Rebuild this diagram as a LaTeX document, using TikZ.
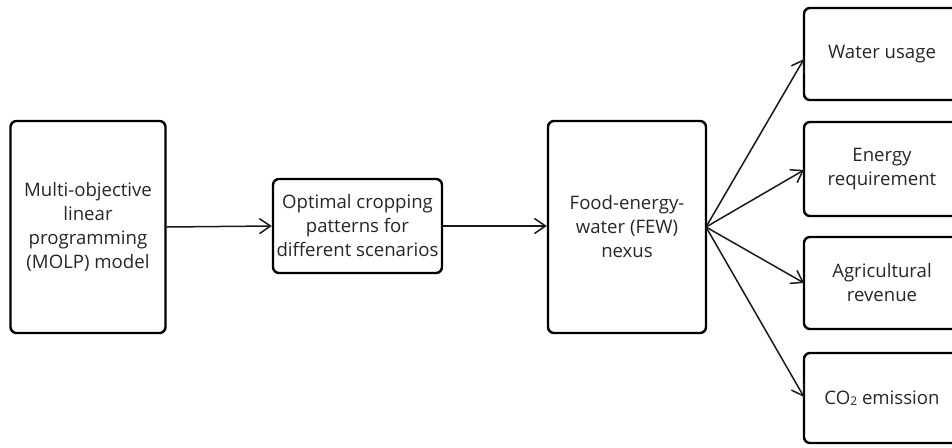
\documentclass[tikz,border=0pt]{standalone}
\usepackage{fontspec}
\setmainfont{Open Sans}
\usetikzlibrary{arrows.meta}
\begin{document}
\begin{tikzpicture}[x=1pt,y=-1pt,
  box/.style={draw=black, line width=2.4pt, rounded corners=6pt, align=center, font=\fontsize{18.6}{24}\selectfont, text=black!85, inner sep=0pt},
  arr/.style={draw=black!90, line width=1.5pt, -{Straight Barb[length=11pt,width=15pt,line width=1.5pt]}}]
\useasboundingbox (0,0) rectangle (952,447);
\clip (0,0) rectangle (952,447);
\node[box, minimum width=155pt, minimum height=212pt] (molp) at (88,227) {Multi-objective\\linear\\programming\\(MOLP) model};
\node[box, minimum width=169pt, minimum height=94pt] (opt) at (357.5,226) {Optimal cropping\\patterns for\\different scenarios};
\node[box, minimum width=158pt, minimum height=212pt] (few) at (627,227) {Food-energy-\\water (FEW)\\nexus};
\node[box, minimum width=156pt, minimum height=92pt] (wu) at (882,54) {Water usage};
\node[box, minimum width=156pt, minimum height=94pt] (er) at (882,169) {Energy\\requirement};
\node[box, minimum width=156pt, minimum height=92pt] (ar) at (882,283) {Agricultural\\revenue};
\node[box, minimum width=156pt, minimum height=90pt] (co) at (882,398) {CO{\raisebox{-0.15ex}{\fontsize{12}{12}\selectfont 2}} emission};
\coordinate (fewout) at (706,227);
\draw[arr] (molp.east) -- (opt.west);
\draw[arr] (opt.east) -- (few.west |- opt.east);
\draw[arr] (fewout) -- (804,59);
\draw[arr] (fewout) -- (804,170);
\draw[arr] (fewout) -- (804,283);
\draw[arr] (fewout) -- (804,397);
\end{tikzpicture}
\end{document}
